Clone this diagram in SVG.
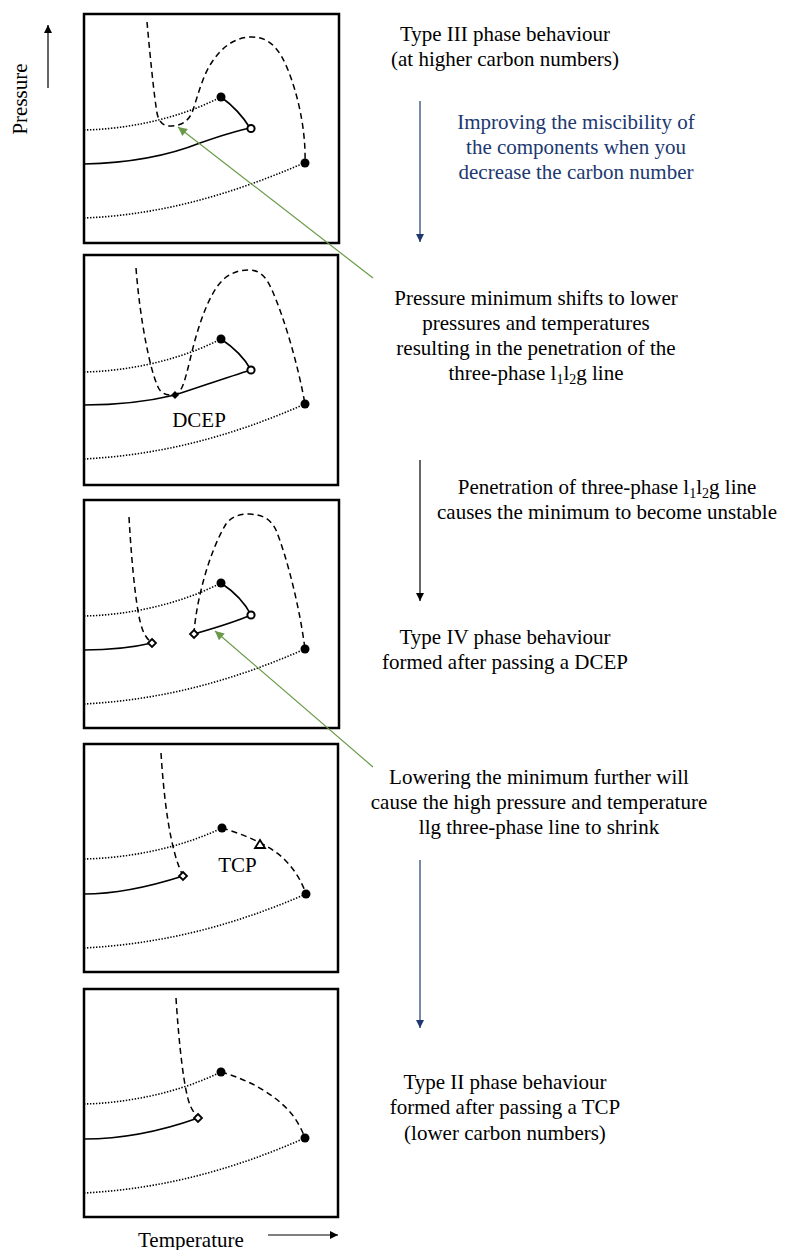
<svg xmlns="http://www.w3.org/2000/svg" width="787" height="1250" viewBox="0 0 787 1250">
<style>
text{font-family:"Liberation Serif","Times New Roman",serif;font-size:21px;fill:#000}
.c{text-anchor:middle}
.blue{fill:#203870}
.box{fill:#fff;stroke:#000;stroke-width:2.5}
.dash{fill:none;stroke:#000;stroke-width:1.5;stroke-dasharray:6 4}
.dot{fill:none;stroke:#000;stroke-width:1.6;stroke-dasharray:1.4 1.6}
.sol{fill:none;stroke:#000;stroke-width:1.6}
.fd{fill:#000}
.oc{fill:#fff;stroke:#000;stroke-width:2}
.od{fill:#fff;stroke:#000;stroke-width:1.8}
.ga{fill:none;stroke:#6a9a48;stroke-width:1.2;marker-end:url(#ahGreen)}
.ba{fill:none;stroke:#000;stroke-width:1.2;marker-end:url(#ahBlack)}
.na{fill:none;stroke:#203870;stroke-width:1.2;marker-end:url(#ahBlue)}
</style>
<defs>
<marker id="ahBlack" viewBox="0 0 10 10" refX="10" refY="5" markerWidth="10" markerHeight="8" markerUnits="userSpaceOnUse" orient="auto"><path d="M0,0 L10,5 L0,10 z" fill="#000"/></marker>
<marker id="ahBlue" viewBox="0 0 10 10" refX="10" refY="5" markerWidth="10" markerHeight="8" markerUnits="userSpaceOnUse" orient="auto"><path d="M0,0 L10,5 L0,10 z" fill="#203870"/></marker>
<marker id="ahGreen" viewBox="0 0 10 10" refX="10" refY="5" markerWidth="13" markerHeight="9" markerUnits="userSpaceOnUse" orient="auto"><path d="M0,0 L10,5 L0,10 z" fill="#6a9a48"/></marker>
</defs>
<rect width="787" height="1250" fill="#fff"/>

<!-- Axes -->
<g id="axis-pressure">
<path class="ba" d="M48,88 L48,25"/>
<text class="c" transform="translate(27,99) rotate(-90)">Pressure</text>
</g>
<g id="axis-temperature">
<text x="138" y="1247">Temperature</text>
<path class="ba" d="M268,1235 L338,1235"/>
</g>

<!-- Panel 1: Type III -->
<g id="panel1">
<rect class="box" x="84" y="14" width="255" height="229"/>
<path class="dash" d="M147,22 C150,55 154,95 157,113 C159,123 164,126 170,126 C180,126 189,122 193,110 C198,95 203,75 212,62 C222,47 235,37 252,37 C270,37 280,50 288,70 C298,95 306,130 305,163"/>
<path class="dot" d="M84,130 C130,129 180,118 221,97"/>
<path class="dot" d="M84,218 C160,215 230,195 304,163"/>
<path class="sol" d="M84,164 C130,163 170,155 200,143 C220,136 235,131 250,128"/>
<path class="sol" d="M221,97 C232,105 242,115 250,128"/>
<circle class="fd" cx="221" cy="97" r="4.5"/>
<circle class="fd" cx="305" cy="163" r="4.5"/>
<circle class="oc" cx="251" cy="128.5" r="3.6"/>
</g>

<!-- Panel 2: DCEP -->
<g id="panel2">
<rect class="box" x="84" y="255" width="254" height="230"/>
<path class="dash" d="M136,268 C140,320 150,370 158,387 C161,394 168,396 175,395 C182,393 185,380 190,360 C198,325 210,290 225,278 C233,272 240,270 248,270 C258,270 265,274 272,290 C285,320 298,365 305,404"/>
<path class="dot" d="M84,372 C130,371 180,360 221,339"/>
<path class="dot" d="M84,459 C160,455 230,437 305,404"/>
<path class="sol" d="M84,405 C120,405 150,401 175,395 C200,387 225,378 251,370"/>
<path class="sol" d="M221,339 C233,347 244,357 251,370"/>
<circle class="fd" cx="221" cy="339" r="4.5"/>
<circle class="fd" cx="305" cy="404" r="4.5"/>
<circle class="oc" cx="251" cy="370" r="3.6"/>
<path class="fd" d="M175,391 L179,395 L175,399 L171,395 z"/>
<text class="c" x="199" y="427">DCEP</text>
</g>

<!-- Panel 3: Type IV -->
<g id="panel3">
<rect class="box" x="84" y="500" width="255" height="228"/>
<path class="dash" d="M129,517 C132,570 137,615 142,628 C144,635 148,640 152,643"/>
<path class="dash" d="M194,634 C196,600 210,550 226,524 C232,516 240,514 250,514 C262,515 270,518 276,530 C288,560 300,610 305,649"/>
<path class="dot" d="M84,616 C130,615 180,604 221,583"/>
<path class="dot" d="M84,704 C160,700 230,682 305,649"/>
<path class="sol" d="M84,650 C110,650 135,647 152,643"/>
<path class="sol" d="M194,634 C215,628 235,622 251,615"/>
<path class="sol" d="M221,583 C233,591 244,601 251,615"/>
<circle class="fd" cx="221" cy="583" r="4.5"/>
<circle class="fd" cx="305" cy="649" r="4.5"/>
<circle class="oc" cx="251" cy="615" r="3.6"/>
<path class="od" d="M152,639 L156,643 L152,647 L148,643 z"/>
<path class="od" d="M194,630 L198,634 L194,638 L190,634 z"/>
</g>

<!-- Panel 4: TCP -->
<g id="panel4">
<rect class="box" x="84" y="744" width="254" height="228"/>
<path class="dash" d="M161,753 C164,800 170,850 183,876"/>
<path class="dash" d="M222,828 C245,835 270,845 285,860 C295,870 302,882 306,894"/>
<path class="dot" d="M84,859 C130,858 180,848 222,828"/>
<path class="dot" d="M84,948 C160,944 230,927 306,894"/>
<path class="sol" d="M84,894 C120,894 155,885 183,876"/>
<circle class="fd" cx="222" cy="828" r="4.5"/>
<circle class="fd" cx="306" cy="894" r="4.5"/>
<path class="od" d="M183,872 L187,876 L183,880 L179,876 z"/>
<path class="od" d="M260,840 L265,848 L255,848 z"/>
<text class="c" x="237.5" y="872">TCP</text>
</g>

<!-- Panel 5: Type II -->
<g id="panel5">
<rect class="box" x="84" y="989" width="254" height="228"/>
<path class="dash" d="M176,998 C179,1045 184,1090 190,1105 C192,1110 195,1114 198,1118"/>
<path class="dash" d="M221,1072 C250,1080 275,1095 290,1112 C297,1120 302,1130 305,1138"/>
<path class="dot" d="M84,1104 C130,1103 180,1092 221,1072"/>
<path class="dot" d="M84,1193 C160,1189 230,1171 305,1138"/>
<path class="sol" d="M84,1139 C130,1139 170,1128 198,1118"/>
<circle class="fd" cx="221" cy="1072" r="4.5"/>
<circle class="fd" cx="305" cy="1138" r="4.5"/>
<path class="od" d="M198,1114 L202,1118 L198,1122 L194,1118 z"/>
</g>

<!-- Connectors -->
<g id="connectors">
<path class="na" d="M420,101 L420,242"/>
<path class="ba" d="M420,460 L420,601"/>
<path class="na" d="M420,860 L420,1028"/>
<path class="ga" d="M373,278 L178,127"/>
<path class="ga" d="M373,767 L215,631"/>
</g>

<!-- Labels -->
<g id="label-type3">
<text class="c" x="505" y="41">Type III phase behaviour</text>
<text class="c" x="505" y="66">(at higher carbon numbers)</text>
</g>
<g id="label-miscibility">
<text class="c blue" x="576" y="129">Improving the miscibility of</text>
<text class="c blue" x="576" y="154">the components when you</text>
<text class="c blue" x="576" y="179">decrease the carbon number</text>
</g>
<g id="label-pmin">
<text class="c" x="536" y="305">Pressure minimum shifts to lower</text>
<text class="c" x="536" y="330">pressures and temperatures</text>
<text class="c" x="536" y="355">resulting in the penetration of the</text>
<text class="c" x="536" y="380">three-phase l<tspan font-size="14" dy="4">1</tspan><tspan dy="-4">l</tspan><tspan font-size="14" dy="4">2</tspan><tspan dy="-4">g line</tspan></text>
</g>
<g id="label-penetration">
<text class="c" x="607" y="494">Penetration of three-phase l<tspan font-size="14" dy="4">1</tspan><tspan dy="-4">l</tspan><tspan font-size="14" dy="4">2</tspan><tspan dy="-4">g line</tspan></text>
<text class="c" x="607" y="519">causes the minimum to become unstable</text>
</g>
<g id="label-type4">
<text class="c" x="505" y="644">Type IV phase behaviour</text>
<text class="c" x="505" y="669">formed after passing a DCEP</text>
</g>
<g id="label-lowering">
<text class="c" x="539" y="784">Lowering the minimum further will</text>
<text class="c" x="539" y="809">cause the high pressure and temperature</text>
<text class="c" x="539" y="834">llg three-phase line to shrink</text>
</g>
<g id="label-type2">
<text class="c" x="505" y="1089">Type II phase behaviour</text>
<text class="c" x="505" y="1114">formed after passing a TCP</text>
<text class="c" x="505" y="1140">(lower carbon numbers)</text>
</g>
</svg>
